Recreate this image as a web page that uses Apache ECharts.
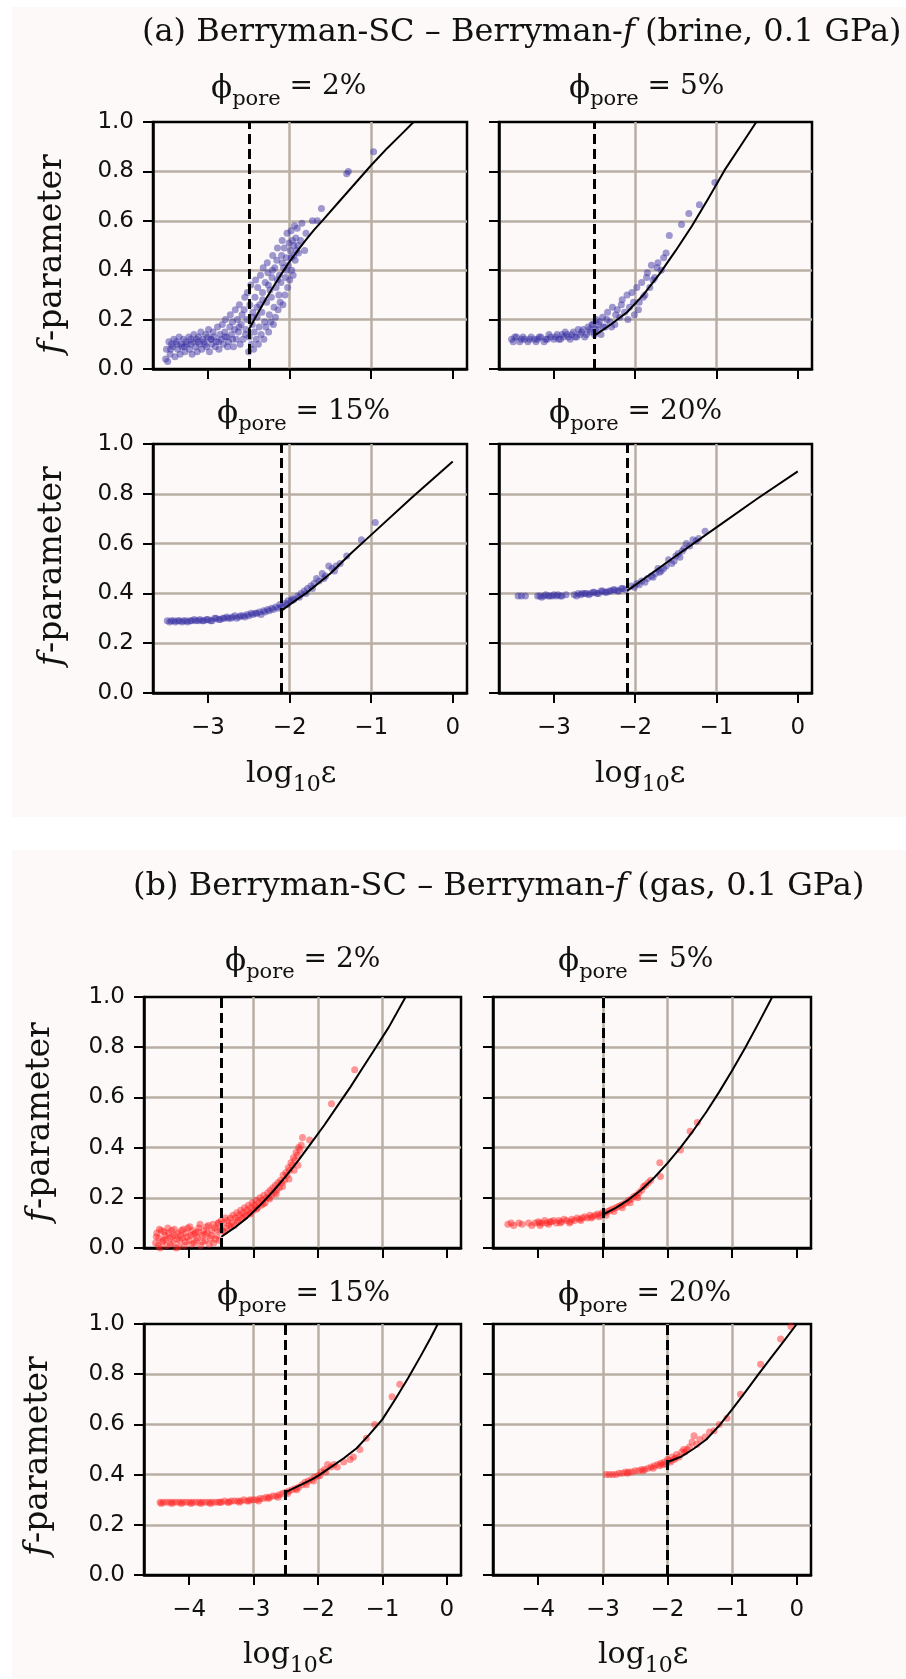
<!DOCTYPE html>
<html>
<head>
<meta charset="utf-8">
<script src="https://cdn.jsdelivr.net/npm/echarts@6/dist/echarts.min.js"></script>
<style>
  body { margin: 0; background: #fff; }
  #wrap { position: relative; width: 906px; height: 1679px; }
  .panel { position: absolute; background: #fdf9f8; }
  #chart { position: absolute; left: 0; top: 0; width: 906px; height: 1679px; }
</style>
</head>
<body>
<div id="wrap">
  <div class="panel" style="left:12px;top:7px;width:894px;height:810px"></div>
  <div class="panel" style="left:12px;top:850px;width:894px;height:829px"></div>
  <div id="chart"></div>
</div>
<script>
// ticks and labels
const xTicksBrine = [-3, -2, -1, 0];
const xTicksGas = [-4, -3, -2, -1, 0];
const yTicks = [0, 0.2, 0.4, 0.6, 0.8, 1.0];
const poreLabels = ['2%', '5%', '15%', '20%'];

// vertical dashed cut-off (log10 eps)
const cutBrine = [-2.5, -2.5, -2.1, -2.1];
const cutGas = [-3.5, -3.0, -2.5, -2.0];

// brine, scatter [log10eps, f]
const brine2 = [
  [-3.52,0.04],[-3.51,0.08],[-3.495,0.03],[-3.48,0.11],[-3.465,0.06],[-3.45,0.10],[-3.435,0.09],[-3.42,0.12],
  [-3.405,0.05],[-3.39,0.11],[-3.372,0.08],[-3.355,0.13],[-3.343,0.06],[-3.33,0.10],[-3.318,0.09],[-3.302,0.12],
  [-3.284,0.07],[-3.271,0.11],[-3.258,0.10],[-3.236,0.13],[-3.227,0.08],[-3.209,0.12],[-3.196,0.06],[-3.183,0.11],
  [-3.174,0.14],[-3.152,0.09],[-3.141,0.12],[-3.133,0.07],[-3.118,0.13],[-3.104,0.10],[-3.088,0.15],[-3.077,0.08],
  [-3.061,0.12],[-3.048,0.11],[-3.027,0.14],[-3.019,0.09],[-3.003,0.13],[-2.994,0.16],[-2.983,0.07],[-2.969,0.12],
  [-2.955,0.10],[-2.938,0.15],[-2.926,0.13],[-2.912,0.09],[-2.897,0.11],[-2.884,0.17],[-2.866,0.08],[-2.853,0.14],
  [-2.838,0.12],[-2.826,0.18],[-2.812,0.10],[-2.795,0.15],[-2.787,0.20],[-2.771,0.13],[-2.762,0.09],[-2.748,0.11],
  [-2.733,0.17],[-2.727,0.22],[-2.712,0.14],[-2.701,0.19],[-2.689,0.09],[-2.674,0.16],[-2.666,0.24],[-2.652,0.12],
  [-2.641,0.20],[-2.628,0.15],[-2.616,0.26],[-2.607,0.10],[-2.594,0.18],[-2.583,0.22],[-2.571,0.12],[-2.558,0.24],
  [-2.549,0.29],[-2.536,0.16],[-2.524,0.20],[-2.517,0.31],[-2.503,0.07],[-2.495,0.13],[-2.488,0.26],[-2.476,0.34],
  [-2.468,0.10],[-2.459,0.18],[-2.451,0.23],[-2.442,0.08],[-2.433,0.15],[-2.425,0.29],[-2.417,0.36],[-2.408,0.12],
  [-2.399,0.21],[-2.391,0.33],[-2.383,0.10],[-2.374,0.17],[-2.366,0.26],[-2.357,0.38],[-2.349,0.14],[-2.341,0.23],
  [-2.332,0.31],[-2.324,0.41],[-2.316,0.12],[-2.307,0.19],[-2.299,0.35],[-2.291,0.17],[-2.282,0.27],[-2.274,0.43],
  [-2.266,0.39],[-2.257,0.15],[-2.249,0.22],[-2.241,0.32],[-2.232,0.19],[-2.224,0.29],[-2.216,0.37],[-2.207,0.46],
  [-2.199,0.18],[-2.191,0.25],[-2.182,0.41],[-2.174,0.21],[-2.166,0.33],[-2.157,0.44],[-2.149,0.49],[-2.141,0.24],
  [-2.132,0.30],[-2.124,0.38],[-2.116,0.27],[-2.107,0.35],[-2.099,0.46],[-2.091,0.52],[-2.082,0.26],[-2.074,0.41],
  [-2.066,0.49],[-2.057,0.30],[-2.049,0.37],[-2.041,0.45],[-2.032,0.55],[-2.024,0.33],[-2.016,0.42],[-2.007,0.51],
  [-1.999,0.36],[-1.991,0.48],[-1.982,0.56],[-1.974,0.40],[-1.966,0.52],[-1.957,0.38],[-1.949,0.46],[-1.941,0.58],
  [-1.932,0.44],[-1.924,0.53],[-1.916,0.48],[-1.907,0.57],[-1.899,0.50],[-1.891,0.47],[-1.866,0.52],[-1.849,0.59],
  [-1.816,0.48],[-1.799,0.55],[-1.72,0.60],[-1.66,0.60],[-1.61,0.65],[-1.30,0.79],[-1.28,0.80],[-0.97,0.88],
  [-3.46,0.08],[-3.38,0.10],[-3.29,0.09],[-3.21,0.10],[-3.12,0.11],[-3.04,0.10],[-2.96,0.12],[-2.87,0.11],
  [-2.79,0.13],[-2.70,0.12],[-2.62,0.17],[-2.54,0.14],[-2.46,0.21],[-2.40,0.25],[-2.33,0.28],[-2.26,0.34],
  [-2.21,0.40],[-2.15,0.36],[-2.09,0.43],[-2.04,0.40],[-1.98,0.45],[-1.95,0.50]
];
const brine5 = [
  [-3.52,0.12],[-3.50,0.11],[-3.48,0.13],[-3.46,0.13],[-3.42,0.11],[-3.40,0.12],[-3.38,0.13],[-3.36,0.12],
  [-3.32,0.11],[-3.30,0.12],[-3.28,0.13],[-3.24,0.12],[-3.22,0.11],[-3.20,0.12],[-3.18,0.13],[-3.16,0.13],
  [-3.12,0.11],[-3.10,0.12],[-3.08,0.12],[-3.06,0.14],[-3.04,0.13],[-3.00,0.12],[-2.98,0.13],[-2.96,0.14],
  [-2.94,0.12],[-2.92,0.12],[-2.90,0.14],[-2.88,0.13],[-2.86,0.15],[-2.84,0.14],[-2.82,0.13],[-2.80,0.12],
  [-2.78,0.14],[-2.76,0.15],[-2.74,0.13],[-2.72,0.13],[-2.70,0.16],[-2.68,0.14],[-2.66,0.15],[-2.64,0.16],
  [-2.62,0.13],[-2.60,0.14],[-2.58,0.17],[-2.56,0.16],[-2.55,0.15],[-2.53,0.18],[-2.52,0.18],[-2.50,0.14],
  [-2.49,0.16],[-2.48,0.20],[-2.46,0.16],[-2.45,0.18],[-2.44,0.19],[-2.42,0.14],[-2.40,0.21],[-2.39,0.17],
  [-2.37,0.17],[-2.35,0.20],[-2.34,0.23],[-2.31,0.19],[-2.29,0.17],[-2.28,0.25],[-2.25,0.18],[-2.24,0.22],
  [-2.22,0.24],[-2.19,0.21],[-2.17,0.26],[-2.16,0.28],[-2.13,0.23],[-2.10,0.30],[-2.09,0.20],[-2.07,0.25],
  [-2.04,0.31],[-2.02,0.27],[-2.01,0.22],[-1.98,0.33],[-1.96,0.24],[-1.95,0.27],[-1.92,0.35],[-1.90,0.29],
  [-1.88,0.30],[-1.86,0.37],[-1.85,0.39],[-1.82,0.33],[-1.80,0.42],[-1.78,0.36],[-1.76,0.37],[-1.73,0.41],
  [-1.72,0.43],[-1.68,0.40],[-1.65,0.45],[-1.62,0.47],[-1.58,0.54],[-1.43,0.585],[-1.34,0.63],[-1.21,0.665],
  [-1.02,0.755]
];
const brine15 = [
  [-3.50,0.29],[-3.47,0.285],[-3.45,0.29],[-3.42,0.29],[-3.40,0.285],[-3.37,0.29],[-3.35,0.29],[-3.32,0.285],
  [-3.30,0.29],[-3.27,0.29],[-3.25,0.285],[-3.22,0.29],[-3.20,0.29],[-3.17,0.295],[-3.15,0.29],[-3.12,0.29],
  [-3.10,0.295],[-3.07,0.29],[-3.05,0.29],[-3.02,0.295],[-3.00,0.295],[-2.97,0.29],[-2.95,0.29],[-2.92,0.30],
  [-2.90,0.30],[-2.87,0.295],[-2.85,0.295],[-2.82,0.30],[-2.80,0.30],[-2.77,0.305],[-2.75,0.30],[-2.72,0.30],
  [-2.70,0.305],[-2.67,0.31],[-2.65,0.30],[-2.62,0.305],[-2.60,0.31],[-2.57,0.31],[-2.55,0.305],[-2.52,0.315],
  [-2.50,0.31],[-2.47,0.32],[-2.45,0.315],[-2.42,0.32],[-2.40,0.32],[-2.37,0.325],[-2.35,0.315],[-2.32,0.33],
  [-2.30,0.325],[-2.27,0.335],[-2.25,0.33],[-2.22,0.34],[-2.20,0.335],[-2.17,0.345],[-2.14,0.34],[-2.12,0.355],
  [-2.10,0.345],[-2.08,0.35],[-2.05,0.36],[-2.03,0.355],[-2.02,0.37],[-1.98,0.37],[-1.96,0.38],[-1.95,0.375],
  [-1.90,0.39],[-1.88,0.385],[-1.86,0.40],[-1.82,0.41],[-1.80,0.40],[-1.78,0.42],[-1.74,0.43],[-1.72,0.42],
  [-1.70,0.44],[-1.67,0.46],[-1.64,0.45],[-1.60,0.48],[-1.58,0.46],[-1.56,0.47],[-1.52,0.51],[-1.48,0.50],
  [-1.45,0.49],[-1.43,0.51],[-1.38,0.52],[-1.30,0.55],[-1.12,0.615],[-0.95,0.685]
];
const brine20 = [
  [-3.44,0.39],[-3.40,0.39],[-3.35,0.39],[-3.20,0.39],[-3.17,0.39],[-3.15,0.385],[-3.12,0.39],[-3.10,0.395],
  [-3.07,0.39],[-3.05,0.39],[-3.02,0.39],[-3.00,0.395],[-2.97,0.39],[-2.95,0.395],[-2.92,0.39],[-2.90,0.39],
  [-2.85,0.395],[-2.75,0.395],[-2.72,0.39],[-2.70,0.40],[-2.67,0.395],[-2.65,0.40],[-2.62,0.40],[-2.60,0.40],
  [-2.57,0.395],[-2.55,0.40],[-2.52,0.405],[-2.50,0.405],[-2.47,0.40],[-2.45,0.40],[-2.42,0.41],[-2.40,0.41],
  [-2.37,0.405],[-2.35,0.405],[-2.32,0.41],[-2.30,0.41],[-2.27,0.415],[-2.25,0.415],[-2.22,0.41],[-2.20,0.41],
  [-2.17,0.42],[-2.15,0.42],[-2.12,0.415],[-2.05,0.43],[-2.01,0.425],[-1.98,0.44],[-1.95,0.435],[-1.92,0.45],
  [-1.88,0.445],[-1.85,0.46],[-1.80,0.47],[-1.78,0.465],[-1.75,0.48],[-1.72,0.50],[-1.70,0.485],[-1.68,0.49],
  [-1.65,0.50],[-1.62,0.51],[-1.59,0.535],[-1.55,0.52],[-1.52,0.53],[-1.50,0.55],[-1.47,0.56],[-1.45,0.545],
  [-1.42,0.57],[-1.40,0.58],[-1.37,0.60],[-1.33,0.59],[-1.29,0.615],[-1.25,0.61],[-1.22,0.62],[-1.14,0.65]
];

// gas
const gas2 = [
  [-4.52,0.02],[-4.50,0.06],[-4.47,0.04],[-4.45,0.00],[-4.43,0.07],[-4.40,0.03],[-4.37,0.05],[-4.35,0.01],
  [-4.32,0.06],[-4.30,0.04],[-4.27,0.07],[-4.25,0.02],[-4.22,0.05],[-4.20,0.00],[-4.17,0.06],[-4.15,0.03],
  [-4.12,0.07],[-4.10,0.04],[-4.07,0.01],[-4.05,0.06],[-4.02,0.08],[-4.00,0.03],[-3.97,0.05],[-3.95,0.07],
  [-3.92,0.02],[-3.90,0.06],[-3.87,0.04],[-3.85,0.08],[-3.82,0.01],[-3.80,0.05],[-3.77,0.07],[-3.75,0.03],
  [-3.72,0.06],[-3.70,0.09],[-3.67,0.04],[-3.65,0.07],[-3.62,0.02],[-3.60,0.08],[-3.57,0.05],[-3.55,0.10],
  [-3.53,0.03],[-3.51,0.07],[-3.50,0.11],
  [-4.51,0.045],[-4.48,0.01],[-4.46,0.075],[-4.42,0.025],[-4.39,0.065],[-4.36,0.035],[-4.33,0.08],[-4.29,0.015],
  [-4.26,0.045],[-4.23,0.075],[-4.19,0.035],[-4.16,0.005],[-4.13,0.05],[-4.09,0.075],[-4.06,0.025],[-4.03,0.045],
  [-3.99,0.085],[-3.96,0.015],[-3.93,0.055],[-3.89,0.03],[-3.86,0.065],[-3.83,0.095],[-3.79,0.025],[-3.76,0.055],
  [-3.73,0.085],[-3.69,0.015],[-3.66,0.05],[-3.63,0.095],[-3.59,0.035],[-3.56,0.075],[-3.54,0.10],
  [-3.48,0.07],[-3.46,0.10],[-3.44,0.12],[-3.42,0.08],[-3.40,0.11],[-3.38,0.09],[-3.36,0.12],[-3.34,0.10],
  [-3.32,0.13],[-3.30,0.09],[-3.28,0.12],[-3.26,0.14],[-3.24,0.11],[-3.22,0.13],[-3.20,0.15],[-3.18,0.12],
  [-3.16,0.14],[-3.14,0.16],[-3.12,0.13],[-3.10,0.15],[-3.08,0.17],[-3.06,0.14],[-3.04,0.16],[-3.02,0.18],
  [-3.00,0.15],[-2.98,0.17],[-2.96,0.19],[-2.94,0.16],[-2.92,0.18],[-2.90,0.20],[-2.88,0.17],[-2.86,0.19],
  [-2.84,0.21],[-2.82,0.18],[-2.80,0.20],[-2.78,0.22],[-2.76,0.20],[-2.74,0.23],[-2.72,0.21],[-2.70,0.24],
  [-2.68,0.22],[-2.66,0.25],[-2.64,0.23],[-2.62,0.26],[-2.60,0.24],[-2.58,0.27],[-2.56,0.26],[-2.54,0.29],
  [-2.52,0.27],[-2.50,0.30],[-2.48,0.29],[-2.46,0.32],[-2.44,0.31],[-2.42,0.34],[-2.40,0.33],[-2.38,0.36],
  [-2.36,0.35],[-2.34,0.38],[-2.32,0.37],[-2.30,0.40],[-2.28,0.39],[-2.26,0.41],[-2.24,0.44],[-2.13,0.43],
  [-3.45,0.065],[-3.35,0.085],[-3.25,0.105],[-3.15,0.125],[-3.05,0.135],[-2.95,0.155],[-2.85,0.175],
  [-2.75,0.195],[-2.65,0.215],[-2.55,0.245],[-2.45,0.275],[-2.37,0.31],[-2.31,0.33],
  [-1.79,0.575],[-1.43,0.71]
];
const gas5 = [
  [-4.47,0.095],[-4.42,0.10],[-4.38,0.09],[-4.30,0.10],[-4.25,0.095],[-4.15,0.10],[-4.10,0.09],[-4.05,0.10],
  [-4.00,0.105],[-3.97,0.09],[-3.94,0.10],[-3.90,0.11],[-3.87,0.10],[-3.84,0.095],[-3.80,0.105],[-3.76,0.11],
  [-3.72,0.10],[-3.68,0.11],[-3.64,0.105],[-3.60,0.115],[-3.56,0.11],[-3.52,0.10],[-3.48,0.115],[-3.44,0.11],
  [-3.40,0.12],[-3.36,0.115],[-3.32,0.12],[-3.28,0.125],[-3.24,0.12],[-3.20,0.13],[-3.16,0.125],[-3.12,0.13],
  [-3.08,0.135],[-3.04,0.13],[-3.01,0.14],[-2.97,0.14],[-2.93,0.145],[-2.89,0.15],[-2.85,0.155],[-2.80,0.16],
  [-2.76,0.165],[-2.72,0.17],[-2.68,0.175],[-2.64,0.18],[-2.60,0.19],[-2.56,0.195],[-2.52,0.205],[-2.48,0.21],
  [-2.44,0.22],[-2.40,0.23],[-2.37,0.245],[-2.34,0.25],[-2.30,0.26],[-2.26,0.27],[-2.12,0.34],[-2.11,0.285],
  [-3.98,0.10],[-3.82,0.105],[-3.66,0.10],[-3.50,0.105],[-3.34,0.11],[-3.18,0.12],[-3.06,0.125],[-2.95,0.13],
  [-2.83,0.145],[-2.70,0.16],[-2.58,0.18],[-2.46,0.20],
  [-1.80,0.39],[-1.65,0.465],[-1.54,0.50]
];
const gas15 = [
  [-4.45,0.29],[-4.40,0.29],[-4.35,0.29],[-4.30,0.29],[-4.25,0.29],[-4.20,0.29],[-4.15,0.29],[-4.10,0.29],
  [-4.05,0.29],[-4.00,0.29],[-3.95,0.29],[-3.90,0.29],[-3.85,0.29],[-3.80,0.29],[-3.75,0.29],[-3.70,0.29],
  [-3.65,0.29],[-3.60,0.29],[-3.55,0.29],[-3.50,0.29],[-3.45,0.295],[-3.40,0.29],[-3.35,0.295],[-3.30,0.295],
  [-3.25,0.295],[-3.20,0.295],[-3.15,0.30],[-3.10,0.295],[-3.05,0.30],[-3.00,0.30],[-2.95,0.30],[-2.90,0.305],
  [-2.85,0.305],[-2.80,0.31],[-2.75,0.31],[-2.70,0.315],[-2.65,0.315],[-2.60,0.32],[-2.55,0.325],[-2.50,0.33],
  [-2.45,0.335],[-2.40,0.34],[-2.35,0.345],[-2.30,0.35],[-2.25,0.36],[-2.20,0.37],[-2.15,0.375],[-2.10,0.38],
  [-2.05,0.39],[-2.00,0.395],[-1.95,0.41],[-1.90,0.42],[-1.85,0.44],[-1.80,0.43],[-1.75,0.44],[-1.70,0.43],
  [-4.43,0.285],[-4.27,0.285],[-4.12,0.285],[-3.97,0.285],[-3.82,0.285],[-3.67,0.285],[-3.52,0.29],[-3.38,0.29],
  [-3.22,0.29],[-3.07,0.295],[-2.92,0.295],[-2.77,0.305],[-2.62,0.31],[-2.47,0.325],[-2.33,0.34],[-2.18,0.36],
  [-2.07,0.375],[-1.97,0.395],[-1.88,0.41],
  [-1.60,0.45],[-1.50,0.46],[-1.45,0.47],[-1.35,0.50],[-1.25,0.545],[-1.12,0.60],[-0.85,0.71],[-0.73,0.76]
];
const gas20 = [
  [-2.95,0.40],[-2.90,0.40],[-2.85,0.40],[-2.80,0.40],[-2.75,0.405],[-2.70,0.405],[-2.65,0.41],[-2.60,0.41],
  [-2.55,0.41],[-2.50,0.415],[-2.45,0.415],[-2.40,0.42],[-2.35,0.42],[-2.30,0.425],[-2.25,0.43],[-2.20,0.435],
  [-2.15,0.44],[-2.10,0.445],[-2.05,0.45],[-2.02,0.44],[-2.00,0.46],[-1.97,0.455],[-1.93,0.47],[-1.90,0.46],
  [-1.86,0.48],[-1.82,0.47],[-1.78,0.49],[-1.75,0.50],[-1.70,0.50],[-1.66,0.51],[-1.62,0.53],[-1.59,0.555],
  [-2.62,0.405],[-2.38,0.415],[-2.22,0.425],[-2.12,0.435],[-2.07,0.44],[-1.95,0.45],[-1.88,0.465],[-1.73,0.49],
  [-1.55,0.52],[-1.50,0.54],[-1.42,0.55],[-1.35,0.57],[-1.28,0.575],[-1.20,0.60],[-1.08,0.625],[-0.87,0.72],
  [-0.56,0.84],[-0.25,0.94],[-0.09,0.99]
];

// fitted curves
const fitBrine2 = [[-2.5,0.16],[-2.4,0.22],[-2.3,0.278],[-2.2,0.333],[-2.1,0.385],[-2.0,0.435],[-1.9,0.48],
  [-1.8,0.523],[-1.7,0.563],[-1.6,0.60],[-1.4,0.675],[-1.2,0.75],[-1.0,0.825],[-0.8,0.895],[-0.6,0.96],[-0.48,1.0]];
const fitBrine5 = [[-2.5,0.135],[-2.3,0.18],[-2.1,0.23],[-1.9,0.30],[-1.7,0.385],[-1.5,0.48],[-1.3,0.58],
  [-1.1,0.69],[-0.9,0.805],[-0.7,0.905],[-0.51,1.0]];
const fitBrine15 = [[-2.1,0.33],[-2.0,0.355],[-1.9,0.378],[-1.8,0.40],[-1.65,0.44],[-1.5,0.48],[-1.25,0.56],
  [-1.0,0.635],[-0.5,0.785],[0,0.93]];
const fitBrine20 = [[-2.1,0.41],[-1.8,0.48],[-1.5,0.55],[-1.0,0.665],[-0.5,0.78],[0,0.89]];
const fitGas2 = [[-3.5,0.045],[-3.3,0.08],[-3.1,0.12],[-2.9,0.17],[-2.7,0.225],[-2.5,0.285],[-2.3,0.35],
  [-2.1,0.42],[-1.9,0.49],[-1.7,0.565],[-1.5,0.64],[-1.3,0.72],[-1.1,0.80],[-0.9,0.88],[-0.64,1.0]];
const fitGas5 = [[-3.0,0.133],[-2.8,0.16],[-2.6,0.193],[-2.4,0.233],[-2.2,0.282],[-2.0,0.338],[-1.8,0.40],
  [-1.6,0.468],[-1.4,0.542],[-1.2,0.622],[-1.0,0.707],[-0.8,0.797],[-0.6,0.892],[-0.4,0.99],[-0.38,1.0]];
const fitGas15 = [[-2.5,0.33],[-2.3,0.355],[-2.1,0.38],[-2.0,0.395],[-1.8,0.43],[-1.6,0.465],[-1.4,0.505],
  [-1.2,0.56],[-1.0,0.62],[-0.8,0.70],[-0.6,0.785],[-0.4,0.875],[-0.25,0.945],[-0.14,1.0]];
const fitGas20 = [[-2.0,0.45],[-1.8,0.47],[-1.6,0.502],[-1.4,0.54],[-1.2,0.595],[-1.0,0.66],[-0.8,0.728],
  [-0.6,0.797],[-0.4,0.865],[-0.2,0.932],[0,1.0]];

const BLUE = 'rgba(55,45,160,0.6)';
const RED = 'rgba(255,30,30,0.58)';
const serif = 'DejaVu Serif';
const sans = 'DejaVu Sans';
const ink = '#111';
const gridGrey = '#b9aea5';

// layout of the eight axes: left, top, width, height
const boxes = [
  [153, 122, 314, 247], [499, 122, 313, 247],
  [153, 444, 314, 249], [499, 444, 313, 249],
  [144, 997, 317, 251], [493, 997, 318, 251],
  [144, 1324, 317, 251], [493, 1324, 318, 251]
];
const panels = [
  { pts: brine2, fit: fitBrine2, cut: cutBrine[0], gas: false },
  { pts: brine5, fit: fitBrine5, cut: cutBrine[1], gas: false },
  { pts: brine15, fit: fitBrine15, cut: cutBrine[2], gas: false },
  { pts: brine20, fit: fitBrine20, cut: cutBrine[3], gas: false },
  { pts: gas2, fit: fitGas2, cut: cutGas[0], gas: true },
  { pts: gas5, fit: fitGas5, cut: cutGas[1], gas: true },
  { pts: gas15, fit: fitGas15, cut: cutGas[2], gas: true },
  { pts: gas20, fit: fitGas20, cut: cutGas[3], gas: true }
];

const grid = [], xAxis = [], yAxis = [], series = [];
panels.forEach((p, i) => {
  const b = boxes[i];
  const leftCol = i % 2 === 0;
  const bottomRow = i === 2 || i === 3 || i === 6 || i === 7;
  const ticks = p.gas ? xTicksGas : xTicksBrine;
  grid.push({ left: b[0], top: b[1], width: b[2], height: b[3], show: true,
    borderColor: '#000', borderWidth: 2.5, backgroundColor: 'transparent' });
  xAxis.push({
    gridIndex: i, type: 'value',
    min: p.gas ? -4.70 : -3.675, max: p.gas ? 0.22 : 0.175,
    axisLine: { show: true, onZero: false, lineStyle: { color: '#000', width: 2.5 } },
    axisTick: { show: true, length: 10, customValues: ticks, lineStyle: { color: '#000', width: 2 } },
    axisLabel: { show: bottomRow, customValues: ticks, margin: 24, fontSize: 23, fontFamily: sans,
      color: ink, formatter: v => String(v).replace('-', '\u2212') },
    splitLine: { show: true, showMinLine: false, showMaxLine: false,
      lineStyle: { color: gridGrey, width: 2.5 } }
  });
  yAxis.push({
    gridIndex: i, type: 'value', min: 0, max: 1, interval: 0.2,
    axisLine: { show: true, onZero: false, lineStyle: { color: '#000', width: 2.5 } },
    axisTick: { show: true, length: 10, customValues: yTicks, lineStyle: { color: '#000', width: 2 } },
    axisLabel: { show: leftCol, customValues: yTicks, margin: 19, fontSize: 23, fontFamily: sans,
      color: ink, formatter: v => v.toFixed(1) },
    splitLine: { show: true, showMinLine: false, showMaxLine: false,
      lineStyle: { color: gridGrey, width: 2.5 } }
  });
  series.push({
    type: 'scatter', xAxisIndex: i, yAxisIndex: i, data: p.pts,
    symbolSize: 7, itemStyle: { color: p.gas ? RED : BLUE }, z: 2
  });
  series.push({
    type: 'line', xAxisIndex: i, yAxisIndex: i, data: p.fit, smooth: false,
    symbol: 'none', showSymbol: false, lineStyle: { color: '#000', width: 2, join: 'round' }, z: 3,
    markLine: {
      silent: true, symbol: ['none', 'none'], label: { show: false },
      lineStyle: { color: '#000', width: 3, type: [10, 5] },
      data: [{ xAxis: p.cut }]
    }
  });
});

const richBase = { fontFamily: serif, fontWeight: 'normal', color: ink };
function poreTitle(label, left, top) {
  return {
    text: '{phi|\u03D5}{sub|pore}{n| = ' + label + '}', left: left, top: top, padding: 0,
    textStyle: { fontWeight: 'normal', rich: {
      phi: Object.assign({ fontSize: 31, lineHeight: 34, verticalAlign: 'top' }, richBase),
      sub: Object.assign({ fontSize: 21, lineHeight: 22, padding: [16, 0, 0, 0], verticalAlign: 'top' }, richBase),
      n: Object.assign({ fontSize: 28, lineHeight: 34, verticalAlign: 'top' }, richBase)
    } }
  };
}
function logTitle(left, top) {
  return {
    text: '{m|log}{s|10}{m|\u03B5}', left: left, top: top, padding: 0,
    textStyle: { fontWeight: 'normal', rich: {
      m: Object.assign({ fontSize: 30, lineHeight: 36, verticalAlign: 'top' }, richBase),
      s: Object.assign({ fontSize: 22, lineHeight: 24, padding: [15, 0, 0, 0], verticalAlign: 'top' }, richBase)
    } }
  };
}
function mainTitle(text, left, top) {
  return {
    text: text, left: left, top: top, padding: 0,
    textStyle: { fontFamily: serif, fontWeight: 'normal', fontSize: 32, color: ink, lineHeight: 38,
      rich: { i: Object.assign({ fontSize: 32, fontStyle: 'italic', lineHeight: 38 }, richBase) } }
  };
}

const poreLeft = [211, 569, 217, 549, 225, 558, 217, 558];
const poreTop = [73, 73, 398, 398, 946, 946, 1280, 1280];
const title = [
  mainTitle('(a) Berryman-SC \u2013 Berryman-{i|f} (brine, 0.1 GPa)', 142, 14),
  mainTitle('(b) Berryman-SC \u2013 Berryman-{i|f} (gas, 0.1 GPa)', 133, 868)
];
panels.forEach((p, i) => title.push(poreTitle(poreLabels[i % 4], poreLeft[i], poreTop[i])));
title.push(logTitle(246, 759), logTitle(595, 759), logTitle(243, 1640), logTitle(598, 1640));

// rotated y-axis titles
const yLabelAt = [[52, 255], [52, 567], [40, 1123], [38, 1457]];
const graphic = yLabelAt.map(c => ({
  type: 'group', x: c[0], y: c[1], rotation: Math.PI / 2,
  children: [
    { type: 'text', x: -99, y: 0, style: { text: 'f', font: 'italic 33px "DejaVu Serif"', fill: ink,
      textAlign: 'left', textVerticalAlign: 'middle' } },
    { type: 'text', x: -86, y: 0, style: { text: '-parameter', font: '33px "DejaVu Serif"', fill: ink,
      textAlign: 'left', textVerticalAlign: 'middle' } }
  ]
}));

const chart = echarts.init(document.getElementById('chart'), null, { renderer: 'canvas' });
chart.setOption({
  animation: false,
  backgroundColor: 'transparent',
  title: title,
  grid: grid,
  xAxis: xAxis,
  yAxis: yAxis,
  series: series,
  graphic: graphic
});
</script>
</body>
</html>
